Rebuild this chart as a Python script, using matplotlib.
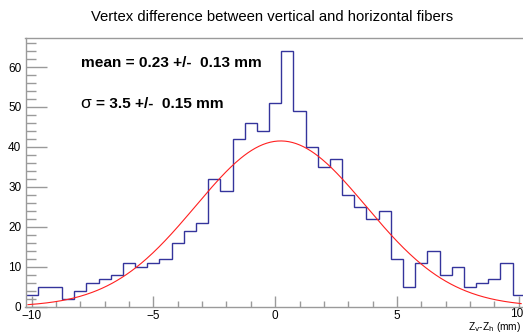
import numpy as np
import matplotlib.pyplot as plt
from matplotlib.transforms import ScaledTranslation

plt.rcParams['font.family'] = ['Liberation Sans', 'DejaVu Sans']

# histogram of Zv - Zh, 0.5 mm bins from -10.25 to 10.25
bin_lo = -10.25
bin_hi = 10.25
counts = [3, 5, 5, 2, 4, 6, 7, 8, 11, 10, 11, 12, 16, 19, 21, 32, 29, 42, 46, 44,
          51, 64, 49, 40, 35, 37, 28, 25, 22, 24, 12, 5, 11, 14, 8, 10, 5, 6, 7, 11, 3]

# gaussian fit parameters
fit_const = 41.5
fit_mean = 0.23
fit_mean_err = 0.13
fit_sigma = 3.5
fit_sigma_err = 0.15

title = 'Vertex difference between vertical and horizontal fibers'
frame_col = '#9a9a9a'

edges = np.linspace(bin_lo, bin_hi, len(counts) + 1)
xf = np.linspace(-10.15, 10.1, 400)
yf = fit_const * np.exp(-0.5 * ((xf - fit_mean) / fit_sigma) ** 2)

fig = plt.figure(figsize=(5.23, 3.32), dpi=100)
ax = fig.add_axes([25.5 / 523, 1 - 306.7 / 332, (524.8 - 25.5) / 523, (306.7 - 38.3) / 332])

ax.stairs(counts, edges, baseline=None, color='#34349c', lw=1.0)
ax.plot(xf, yf, color='#ff2020', lw=0.8)

ax.set_xlim(bin_lo, bin_hi)
ax.set_ylim(0, max(counts) * 1.05)

ax.set_xticks([-10, -5, 0, 5, 10])
ax.set_xticklabels(['\u221210', '\u22125', '0', '5', '10'])
ax.set_xticks(np.arange(-10, 11, 1), minor=True)
ax.set_yticks(np.arange(0, 61, 10))
ax.set_yticks(np.arange(0, 67, 2), minor=True)

ax.tick_params(axis='x', which='major', direction='in', length=8, width=1,
               color=frame_col, labelsize=8.5, pad=2.5)
ax.tick_params(axis='x', which='minor', direction='in', length=4, width=1, color=frame_col)
ax.tick_params(axis='y', which='major', direction='in', length=15, width=1,
               color=frame_col, labelsize=8.5, pad=3)
ax.tick_params(axis='y', which='minor', direction='in', length=7.5, width=1, color=frame_col)

# last x label sits right at the figure edge, just above the axis title
last = ax.get_xticklabels()[-1]
last.set_transform(last.get_transform() + ScaledTranslation(-2 / 100, 2 / 100, fig.dpi_scale_trans))

for s in ax.spines.values():
    s.set_color(frame_col)
    s.set_linewidth(1)
ax.spines['right'].set_visible(False)

fig.text(272 / 523, 1 - 21 / 332, title, ha='center', va='baseline', fontsize=10.7)
fig.text(81 / 523, 1 - 67.3 / 332, 'mean = %.2f +/-  %.2f mm' % (fit_mean, fit_mean_err),
         ha='left', va='baseline', fontsize=11.1, fontweight='bold')
fig.text(80 / 523, 1 - 107.5 / 332, '\u03c3', ha='left', va='baseline', fontsize=12.5)
fig.text(96 / 523, 1 - 107.5 / 332, '= %.1f +/-  %.2f mm' % (fit_sigma, fit_sigma_err),
         ha='left', va='baseline', fontsize=11.1, fontweight='bold')
fig.text(521 / 523, 1 - 329.5 / 332, r'Z$_{\rm v}$-Z$_{\rm h}$ (mm)', ha='right', va='baseline', fontsize=7.3)

fig.savefig('out.png', dpi=100)
